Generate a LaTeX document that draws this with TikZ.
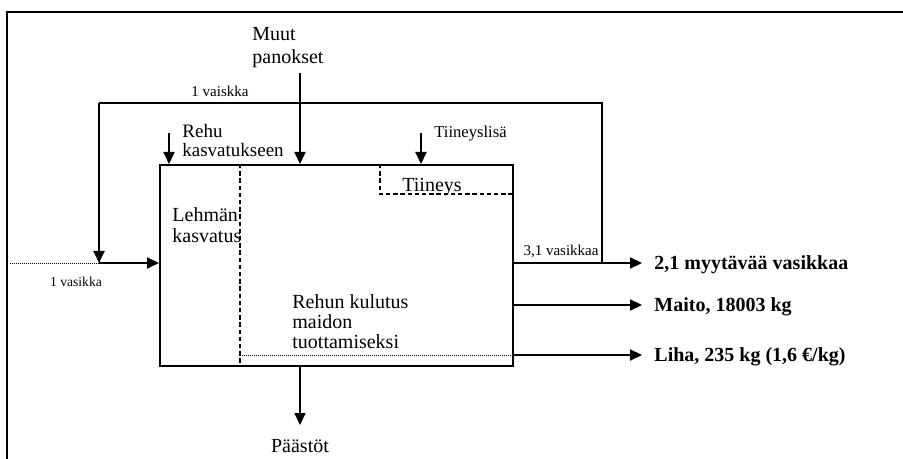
\documentclass[tikz,border=0pt]{standalone}
\usepackage{fontspec}
\setmainfont{Liberation Serif}
\usetikzlibrary{arrows.meta}
\begin{document}
\begin{tikzpicture}[x=0.5pt,y=-0.5pt,
  frame/.style={line width=1.2pt},
  boxline/.style={line width=1pt},
  arr/.style={line width=1pt,-{Triangle[length=6pt,width=5.5pt]}},
  loopline/.style={line width=0.8pt},
  dsh/.style={line width=0.6pt,dash pattern=on 2.2pt off 1.4pt},
  dot/.style={line width=0.5pt,dash pattern=on 0.5pt off 0.5pt},
  txt/.style={inner sep=0pt,font=\fontsize{10}{10}\selectfont},
  outtxt/.style={inner sep=0pt,font=\fontsize{10}{10}\selectfont\bfseries},
  small/.style={inner sep=0pt,font=\fontsize{7.5}{7.5}\selectfont}]
\useasboundingbox (0,0) rectangle (903,459);
\clip (0,0) rectangle (903,459);
% outer frame
\coordinate (fTR) at (915,12);
\coordinate (fTL) at (7,12);
\coordinate (fBL) at (7,470);
\draw[frame] (fTR) -- (fTL) -- (fBL);
% main box
\node[draw,boxline,anchor=north west,minimum width=176.5pt,minimum height=100.5pt,inner sep=0pt] (box) at (159,164) {};
% dashed divider
\coordinate (dv) at (240,164);
\draw[dsh] (dv) -- (dv |- box.south);
% Tiineys box
\coordinate (tA) at (380,164);
\coordinate (tB) at (380,194);
\draw[dsh] (tA) -- (tB) -- (tB -| box.east);
\node[txt,anchor=base west] (tiineys) at (402,192) {Tiineys};
% texts inside (base = last line)
\node[txt,anchor=base west,align=left,font=\fontsize{10}{10.5}\selectfont] (lehman) at (172,243) {Lehmän\\kasvatus};
\node[txt,anchor=base west,align=left,font=\fontsize{10}{9.8}\selectfont] (rehun) at (292,348) {Rehun kulutus\\maidon\\tuottamiseksi};
% dotted line at bottom
\coordinate (dotA) at (240,355);
\draw[dot] (dotA) -- (dotA -| box.east);
% top inputs
\coordinate (muutS) at (300,73);
\node[txt,anchor=base west,align=left,font=\fontsize{10}{11.5}\selectfont] (muut) at (252,64) {Muut\\panokset};
\draw[arr] (muutS) -- (muutS |- box.north);
\coordinate (rehuS) at (169,133);
\node[txt,anchor=base west,align=left,font=\fontsize{9.5}{9.5}\selectfont] (rehu) at (182,157) {Rehu\\kasvatukseen};
\draw[arr] (rehuS) -- (rehuS |- box.north);
\coordinate (tiiS) at (421,133);
\node[txt,anchor=base west,font=\fontsize{8.3}{8.3}\selectfont] (tiilisa) at (434,138) {Tiineyslisä};
\draw[arr] (tiiS) -- (tiiS |- box.north);
% outputs
\coordinate (o1) at (642,263);
\coordinate (o2) at (642,305);
\coordinate (o3) at (642,355);
\draw[arr] (box.east |- o1) -- (o1);
\draw[arr] (box.east |- o2) -- (o2);
\draw[arr] (box.east |- o3) -- (o3);
\node[outtxt,anchor=base west] (out1) at (654,270) {2,1 myytävää vasikkaa};
\node[outtxt,anchor=base west] (out2) at (654,311) {Maito, 18003 kg};
\node[outtxt,anchor=base west] (out3) at (654,361) {Liha, 235 kg (1,6 €/kg)};
% feedback loop
\coordinate (loopR) at (602,103);
\coordinate (loopL) at (99,103);
\coordinate (jn) at (99,263);
\coordinate (dotL) at (10,264);
\draw[loopline] (loopR |- o1) -- (loopR) -- (loopL);
\draw[arr] (loopL) -- (jn);
\draw[arr] (jn) -- (jn -| box.west);
\draw[dot] (dotL) -- (dotL -| jn);
\node[small] (vaiskka) at (220,91) {1 vaiskka};
\node[small] (kolme) at (561,251) {3,1 vasikkaa};
\node[small,font=\fontsize{6.8}{6.8}\selectfont] (yksi) at (76,282) {1 vasikka};
% emissions
\coordinate (pE) at (300,425);
\draw[arr] (box.south -| pE) -- (pE);
\node[txt,anchor=base] (paastot) at (300,452) {Päästöt};
\end{tikzpicture}
\end{document}
